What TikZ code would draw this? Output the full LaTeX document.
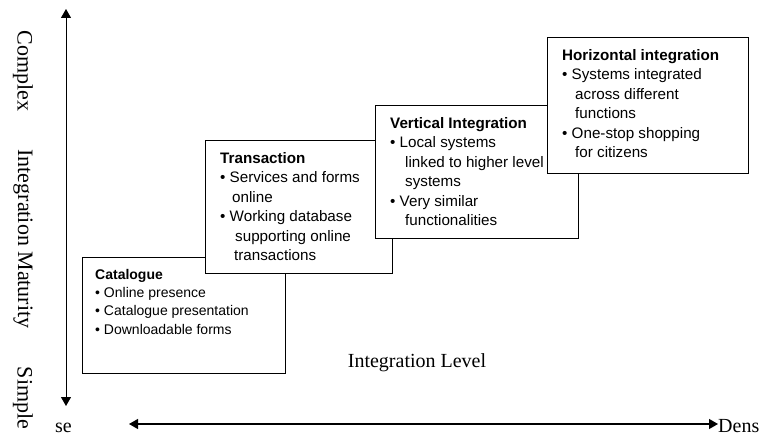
\documentclass[tikz,border=0pt]{standalone}
\usepackage{fontspec}
\setmainfont{Liberation Serif}
\newfontfamily\boxfont{Liberation Sans}
\usetikzlibrary{arrows.meta}

\tikzset{
  stage/.style={draw=black, line width=1.4pt, fill=white, anchor=north west, inner sep=0pt},
  stagetext/.style={anchor=north west, inner sep=0pt, align=left,
    font=\boxfont\fontsize{15.2}{19.5}\selectfont},
  smalltext/.style={stagetext, font=\boxfont\fontsize{14}{18.3}\selectfont},
  axislabel/.style={font=\fontsize{22}{22}\selectfont, rotate=-90, inner sep=0pt},
  levellabel/.style={font=\fontsize{20}{20}\selectfont, inner sep=0pt},
  axis/.style={line width=0.9pt, {Triangle[width=10pt,length=9pt]}-{Triangle[width=10pt,length=9pt]}},
}

\begin{document}
\begin{tikzpicture}[x=1pt, y=1pt]
  \useasboundingbox (0,0) rectangle (761,-436);

  % vertical axis: integration maturity
  \coordinate (ytop) at (66,-9);
  \coordinate (ybot) at (66,-406);
  \draw[axis] (ytop) -- (ybot);
  \node[axislabel] (complex) at (23,-71) {Complex};
  \node[axislabel] (maturity) at (23,-239) {Integration Maturity};
  \node[axislabel] (simple) at (23,-398) {Simple};

  % horizontal axis: integration level
  \node[levellabel, anchor=base east] (sparse) at (72,-432) {se};
  \node[levellabel, anchor=west] (dens) at (718,-426) {Dens};
  \coordinate (xleft) at (129,-424);
  \draw[axis, line width=1.2pt] (xleft) -- (dens.west |- xleft);
  \node[levellabel] (level) at (417,-363) {Integration Level};

  % stage 1
  \node[stage, minimum width=203pt, minimum height=116pt] (cat) at (82,-257) {};
  \node[smalltext] (catT) at ([shift={(13,-12)}]cat.north west)
    {\textbf{Catalogue}\\
     • Online presence\\
     • Catalogue presentation\\
     • Downloadable forms};

  % stage 2
  \node[stage, minimum width=187pt, minimum height=133pt] (trans) at (205,-140) {};
  \node[stagetext] (transT) at ([shift={(15,-12)}]trans.north west)
    {\textbf{Transaction}\\
     • Services and forms\\
     \hspace*{12pt}online\\
     • Working database\\
     \hspace*{15pt}supporting online\\
     \hspace*{14pt}transactions};

  % stage 3
  \node[stage, minimum width=203pt, minimum height=133pt] (vert) at (375,-105) {};
  \node[stagetext] (vertT) at ([shift={(15,-12)}]vert.north west)
    {\textbf{Vertical Integration}\\
     • Local systems\\
     \hspace*{15pt}linked to higher level\\
     \hspace*{15pt}systems\\
     • Very similar\\
     \hspace*{15pt}functionalities};

  % stage 4
  \node[stage, minimum width=201pt, minimum height=136pt] (horiz) at (547,-37) {};
  \node[stagetext] (horizT) at ([shift={(15,-12)}]horiz.north west)
    {\textbf{Horizontal integration}\\
     • Systems integrated\\
     \hspace*{13pt}across different\\
     \hspace*{13pt}functions\\
     • One-stop shopping\\
     \hspace*{13pt}for citizens};
\end{tikzpicture}
\end{document}
